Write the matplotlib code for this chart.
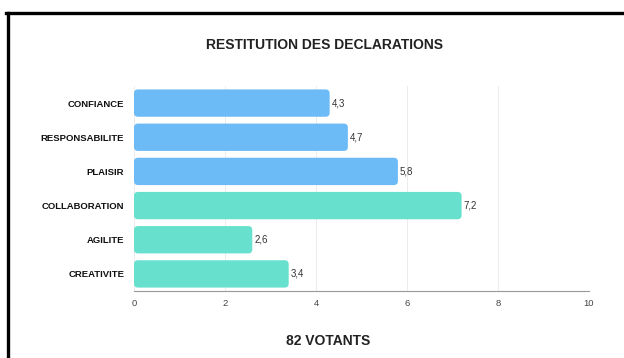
import matplotlib
matplotlib.use("Agg")
import matplotlib.pyplot as plt
from matplotlib.patches import FancyBboxPatch
from matplotlib.lines import Line2D

categories = ["CONFIANCE", "RESPONSABILITE", "PLAISIR", "COLLABORATION", "AGILITE", "CREATIVITE"]
values = [4.3, 4.7, 5.8, 7.2, 2.6, 3.4]
value_labels = ["4,3", "4,7", "5,8", "7,2", "2,6", "3,4"]
colors = ["#6cbaf6", "#6cbaf6", "#6cbaf6", "#67e1cd", "#67e1cd", "#67e1cd"]
xticks = [0, 2, 4, 6, 8, 10]
title = "RESTITUTION DES DECLARATIONS"
footer = "82 VOTANTS"

plt.rcParams['font.family'] = ['Liberation Sans', 'DejaVu Sans']

fig = plt.figure(figsize=(6.24, 3.58), dpi=100)
fig.patch.set_facecolor("white")
ax = fig.add_axes([134/624, 1-291/358, (589-134)/624, (291-86)/358])

y = list(range(len(categories)))
bars = ax.barh(y, values, height=0.8, color=colors, zorder=3)
ax.set_ylim(len(categories)-0.5, -0.5)
ax.set_xlim(0, 10)

# rounded bars
for b in bars:
    x0, y0 = b.get_x(), b.get_y()
    w, h = b.get_width(), b.get_height()
    fb = FancyBboxPatch((x0, y0), w, h,
                        boxstyle="round,pad=0,rounding_size=0.09",
                        mutation_aspect=1.3,
                        facecolor=b.get_facecolor(), edgecolor="none", zorder=3)
    ax.add_patch(fb)
    b.set_visible(False)

for yi, v, lab in zip(y, values, value_labels):
    ax.annotate(lab, (v, yi), xytext=(1.5, 0), textcoords="offset points",
                va="center", ha="left", fontsize=7, color="#333333")

ax.set_yticks(y)
ax.set_yticklabels(categories, fontsize=6.8, fontweight="bold", color="#111111")
ax.set_xticks(xticks)
ax.set_xticklabels([str(t) for t in xticks], fontsize=6.8, color="#444444")
ax.tick_params(axis="both", length=0)
ax.tick_params(axis="y", pad=7)
ax.tick_params(axis="x", pad=6)
ax.grid(axis="x", color="#ececec", linewidth=0.7, zorder=0)
for s in ["top", "right", "left"]:
    ax.spines[s].set_visible(False)
ax.spines["bottom"].set_color("#999999")
ax.spines["bottom"].set_linewidth(0.8)

fig.text(325/624, 1-45/358, title, ha="center", va="center", fontsize=10, fontweight="bold", color="#222222")
fig.text(328/624, 1-341/358, footer, ha="center", va="center", fontsize=10, fontweight="bold", color="#222222")

# frame lines
fig.add_artist(Line2D([6/624, 1.0], [1-13/358, 1-13/358], color="black", linewidth=2.4, transform=fig.transFigure))
fig.add_artist(Line2D([8/624, 8/624], [1-13/358, 0], color="black", linewidth=2.4, transform=fig.transFigure))

fig.savefig("out.png", dpi=100, facecolor="white")
